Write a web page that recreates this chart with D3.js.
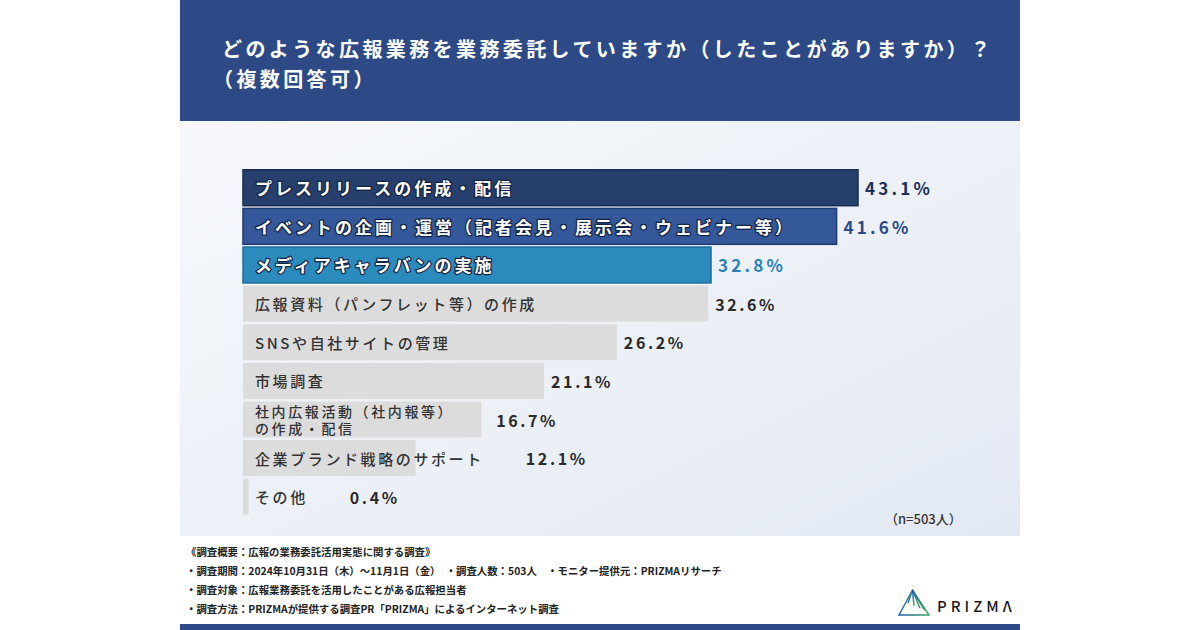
<!DOCTYPE html>
<html>
<head>
<meta charset="utf-8">
<script src="https://d3js.org/d3.v7.min.js"></script>
<style>
  body { margin: 0; background: #fff; }
  text { font-family: "Noto Sans CJK JP", "Noto Sans", sans-serif; }
</style>
</head>
<body>
<script>
  // chart data
  let categories = [
    "プレスリリースの作成・配信",
    "イベントの企画・運営（記者会見・展示会・ウェビナー等）",
    "メディアキャラバンの実施",
    "広報資料（パンフレット等）の作成",
    "SNSや自社サイトの管理",
    "市場調査",
    "社内広報活動（社内報等）\nの作成・配信",
    "企業ブランド戦略のサポート",
    "その他"
  ];
  let values = [43.1, 41.6, 32.8, 32.6, 26.2, 21.1, 16.7, 12.1, 0.4];
  let titleLines = ["どのような広報業務を業務委託していますか（したことがありますか）？", "（複数回答可）"];
  let sampleNote = "（n=503人）";
  let footLines = [
    "《調査概要：広報の業務委託活用実態に関する調査》",
    "・調査期間：2024年10月31日（木）～11月1日（金）　・調査人数：503人　・モニター提供元：PRIZMAリサーチ",
    "・調査対象：広報業務委託を活用したことがある広報担当者",
    "・調査方法：PRIZMAが提供する調査PR「PRIZMA」によるインターネット調査"
  ];

  let width = 1200, height = 630;
  let svg = d3.select("body").append("svg")
              .attr("width", width)
              .attr("height", height);

  let defs = svg.append("defs");
  let bg = defs.append("linearGradient").attr("id", "bg")
               .attr("x1", 0).attr("y1", 0).attr("x2", 1).attr("y2", 1);
  bg.append("stop").attr("offset", "0%").attr("stop-color", "#f6f8fb");
  bg.append("stop").attr("offset", "100%").attr("stop-color", "#e3e9f3");
  let lg = defs.append("linearGradient").attr("id", "logo")
               .attr("x1", 0).attr("y1", 0).attr("x2", 1).attr("y2", 0);
  lg.append("stop").attr("offset", "0%").attr("stop-color", "#1d5fa6");
  lg.append("stop").attr("offset", "100%").attr("stop-color", "#2fa35a");

  // panel
  svg.append("rect").attr("x", 180).attr("y", 0).attr("width", 840).attr("height", 121).attr("fill", "#2e4a86");
  svg.append("rect").attr("x", 180).attr("y", 121).attr("width", 840).attr("height", 415).attr("fill", "url(#bg)");
  svg.append("rect").attr("x", 180).attr("y", 624).attr("width", 840).attr("height", 6).attr("fill", "#2e4a86");

  // title
  titleLines.forEach((t, i) => {
    svg.append("text")
       .attr("x", i == 0 ? 222 : 213)
       .attr("y", 57 + i * 30)
       .attr("fill", "#fff")
       .attr("font-size", 20)
       .attr("font-weight", 700)
       .attr("letter-spacing", 3.4)
       .text(t);
  });

  let x = d3.scaleLinear().domain([0, 43.1]).range([243, 858]);
  let y = d3.scaleBand().domain(categories).range([169, 515.5]).paddingInner(0.07).paddingOuter(0.02);

  let fills = ["#263f6c", "#34589a", "#2b8bbd"];
  let strokes = ["#172a4f", "#1f3b72", "#1d6e9d"];
  let valColors = ["#1f3059", "#2a4a8c", "#2783b6"];

  categories.forEach((c, i) => {
    let top = i < 3;
    let yc = y(c) + y.bandwidth() / 2;
    svg.append("rect")
       .attr("x", x(0))
       .attr("y", y(c))
       .attr("width", x(values[i]) - x(0))
       .attr("height", y.bandwidth())
       .attr("fill", top ? fills[i] : "#dcdcdc")
       .attr("stroke", top ? strokes[i] : "none")
       .attr("stroke-width", 1.5);

    // label (one text, wrapped lines as tspans)
    let lines = c.split("\n");
    let t = svg.append("text")
       .attr("font-size", top ? 17 : (lines.length > 1 ? 14 : 15))
       .attr("font-weight", top ? 700 : 500)
       .attr("letter-spacing", top ? 3 : 2.6)
       .attr("fill", top ? "#fff" : "#333");
    let labelEnd = 0;
    lines.forEach((l, j) => {
      let s = t.append("tspan")
         .attr("x", 255)
         .attr("y", yc + (j - (lines.length - 1) / 2) * 17.5)
         .attr("dominant-baseline", "central")
         .text(l);
      labelEnd = Math.max(labelEnd, 255 + s.node().getComputedTextLength());
    });
    if (top) {
      t.attr("stroke", "#142444").attr("stroke-width", 2.5)
       .attr("paint-order", "stroke").attr("stroke-linejoin", "round");
    }

    let vx = Math.max(x(values[i]) + 7, labelEnd + 42);
    svg.append("text")
       .attr("x", vx)
       .attr("y", yc)
       .attr("dominant-baseline", "central")
       .attr("font-size", top ? 17 : 16)
       .attr("font-weight", 700)
       .attr("letter-spacing", top ? 3.2 : 2.6)
       .attr("fill", top ? valColors[i] : "#2a2a2a")
       .text(values[i].toFixed(1) + "%");
  });

  svg.append("text")
     .attr("x", 885).attr("y", 518)
     .attr("dominant-baseline", "central")
     .attr("font-size", 13).attr("font-weight", 500)
     .attr("fill", "#333")
     .text(sampleNote);

  // footer
  footLines.forEach((t, i) => {
    svg.append("text")
       .attr("x", 186)
       .attr("y", 551 + i * 19.3)
       .attr("dominant-baseline", "central")
       .attr("font-size", 10.4)
       .attr("font-weight", 700)
       .attr("fill", "#222")
       .text(t);
  });

  // logo
  let lx = 899, ly = 615, lw = 30, lh = 25;
  let logo = svg.append("g").attr("fill", "none").attr("stroke", "url(#logo)").attr("stroke-width", 1.4);
  logo.append("path").attr("d", `M${lx},${ly} L${lx + lw * 0.45},${ly - lh} L${lx + lw},${ly} Z`);
  [0.3, 0.5, 0.7, 0.85].forEach(f => {
    logo.append("line")
        .attr("x1", lx + lw * 0.45).attr("y1", ly - lh)
        .attr("x2", lx + lw * f).attr("y2", ly - lh * (1 - f) * 0.5 - 3);
  });
  svg.append("text")
     .attr("x", 937).attr("y", 605)
     .attr("dominant-baseline", "central")
     .attr("font-size", 15).attr("font-weight", 500)
     .attr("letter-spacing", 4)
     .attr("fill", "#1a1a1a")
     .text("PRIZMΛ");
</script>
</body>
</html>
